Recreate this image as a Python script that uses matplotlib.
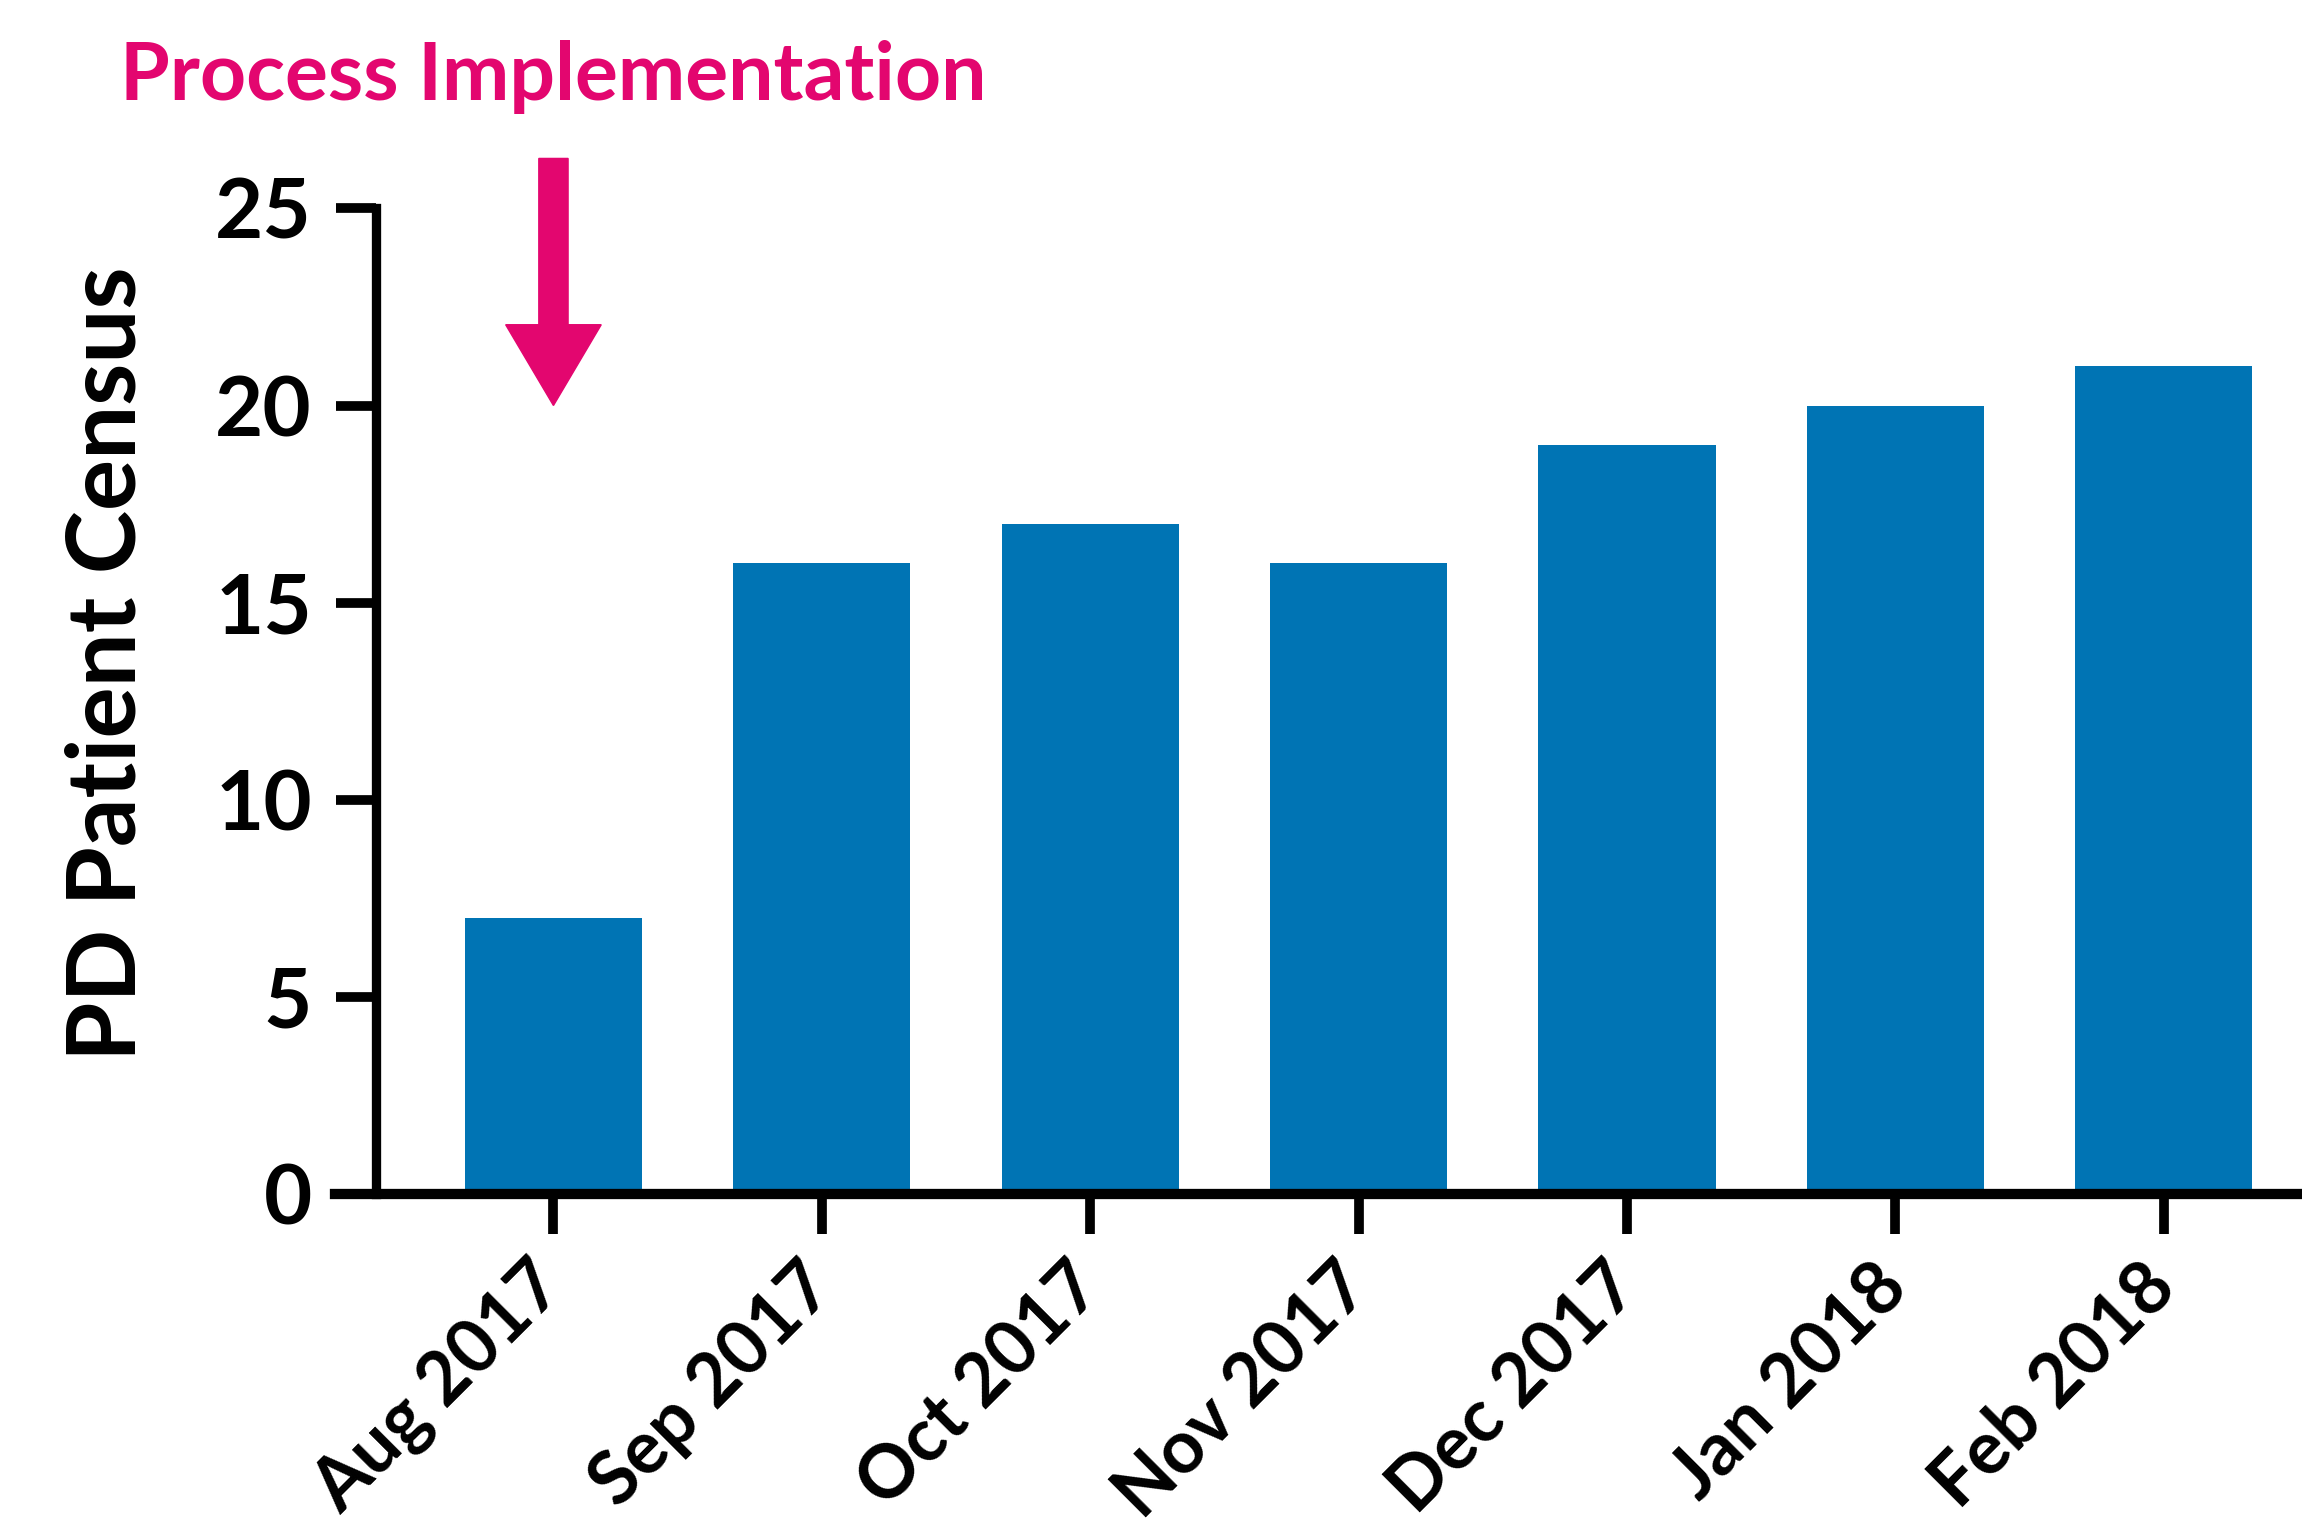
import matplotlib
matplotlib.use("Agg")
import matplotlib.pyplot as plt
from matplotlib.patches import FancyArrow

months = ['Aug 2017', 'Sep 2017', 'Oct 2017', 'Nov 2017', 'Dec 2017', 'Jan 2018', 'Feb 2018']
census = [7, 16, 17, 16, 19, 20, 21]
y_ticks = [0, 5, 10, 15, 20, 25]
marker_month = 0  # process implementation started in Aug 2017

plt.rcParams['font.family'] = ['Lato', 'DejaVu Sans']

bar_color = '#0074B4'
pink = '#E3066F'

fig = plt.figure(figsize=(23.02, 15.24), dpi=100)
ax = fig.add_axes([0.1454, 0.2168, 0.8546, 0.6464])

x = list(range(len(months)))
ax.bar(x, census, width=0.66, color=bar_color, zorder=2)

ax.set_xlim(-0.815, 6.515)
ax.set_ylim(0, 25)

for s in ['top', 'right']:
    ax.spines[s].set_visible(False)
ax.spines['left'].set_position(('data', -0.662))
ax.spines['left'].set_linewidth(6.7)
ax.spines['bottom'].set_linewidth(7.4)
ax.spines['bottom'].set_zorder(3)

ax.set_yticks(y_ticks)
ax.set_yticklabels([str(v) for v in y_ticks])
ax.set_xticks(x)
ax.set_xticklabels(months, rotation=45, ha='right', va='center',
                   rotation_mode='anchor')
ax.tick_params(axis='y', length=29, width=7, pad=17, labelsize=60)
ax.tick_params(axis='x', length=29, width=7, pad=30, labelsize=53)
for lab in ax.get_xticklabels() + ax.get_yticklabels():
    lab.set_fontweight('bold')

fig.text(0.0469, 0.5645, 'PD Patient Census', rotation=90, ha='center',
         va='center', fontsize=69, fontweight='bold')

# arrow marking the process start
arrow = FancyArrow(marker_month, 26.27, 0, -6.27, width=0.109, head_width=0.356,
                   head_length=2.05, length_includes_head=True,
                   color=pink, clip_on=False, zorder=4)
ax.add_patch(arrow)
ax.text(marker_month, 27.76, 'Process Implementation', ha='center', va='baseline',
        fontsize=58, fontweight='bold', color=pink, clip_on=False)

fig.savefig('out.png', dpi=100)
